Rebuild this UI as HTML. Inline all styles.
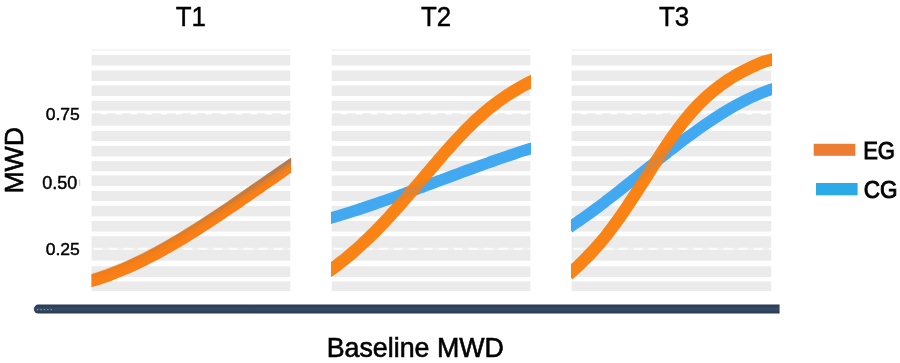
<!DOCTYPE html>
<html><head><meta charset="utf-8"><title>MWD chart</title>
<style>
html,body{margin:0;padding:0;background:#fff;}
body{width:900px;height:363px;overflow:hidden;font-family:"Liberation Sans",sans-serif;}
svg{display:block;}
</style></head><body>
<svg width="900" height="363" viewBox="0 0 900 363">
<defs><filter id="b" x="-5%" y="-5%" width="110%" height="110%"><feGaussianBlur stdDeviation="0.75"/></filter>
<filter id="b2" x="-5%" y="-5%" width="110%" height="110%"><feGaussianBlur stdDeviation="0.5"/></filter>
<clipPath id="c0"><rect x="91.4" y="40" width="199.7" height="260"/></clipPath>
<clipPath id="c1"><rect x="331.5" y="40" width="198.9" height="260"/></clipPath>
<clipPath id="c2"><rect x="571.4" y="40" width="199.8" height="260"/></clipPath>
<linearGradient id="g1" gradientUnits="userSpaceOnUse" x1="92" y1="0" x2="291" y2="0"><stop offset="0" stop-color="#d9782e" stop-opacity="0.25"/><stop offset="0.5" stop-color="#c87a3c" stop-opacity="0.55"/><stop offset="1" stop-color="#a37a5e" stop-opacity="0.95"/></linearGradient>
<linearGradient id="gb" x1="0" y1="0" x2="0" y2="1"><stop offset="0" stop-color="#2a394e"/><stop offset="0.5" stop-color="#354b69"/><stop offset="1" stop-color="#2a394e"/></linearGradient>
</defs>
<rect width="900" height="363" fill="#fff"/>
<g filter="url(#b)">
<rect x="91.6" y="49" width="198.7" height="1.8" fill="#f3f3f3"/>
<rect x="91.6" y="55.0" width="198.7" height="10.5" fill="#ebebeb"/>
<rect x="91.6" y="70.5" width="198.7" height="10.5" fill="#ebebeb"/>
<rect x="91.6" y="85.4" width="198.7" height="10.6" fill="#ebebeb"/>
<rect x="91.6" y="100.9" width="198.7" height="9.7" fill="#ebebeb"/>
<rect x="91.6" y="114.4" width="198.7" height="11.3" fill="#ebebeb"/>
<rect x="91.6" y="130.9" width="198.7" height="10.1" fill="#ebebeb"/>
<rect x="91.6" y="145.8" width="198.7" height="10.6" fill="#ebebeb"/>
<rect x="91.6" y="161.0" width="198.7" height="10.2" fill="#ebebeb"/>
<rect x="91.6" y="175.4" width="198.7" height="10.6" fill="#ebebeb"/>
<rect x="91.6" y="190.9" width="198.7" height="10.1" fill="#ebebeb"/>
<rect x="91.6" y="205.8" width="198.7" height="10.6" fill="#ebebeb"/>
<rect x="91.6" y="221.0" width="198.7" height="10.6" fill="#ebebeb"/>
<rect x="91.6" y="236.2" width="198.7" height="24.5" fill="#ebebeb"/>
<rect x="91.6" y="266.3" width="198.7" height="10.7" fill="#ebebeb"/>
<rect x="91.6" y="281.4" width="198.7" height="9.6" fill="#ebebeb"/>
<line x1="91.6" x2="290.3" y1="114.1" y2="114.1" stroke="#ebebeb" stroke-width="1.6" stroke-linecap="round" stroke-dasharray="7.5 7.5" stroke-dashoffset="-1"/>
<line x1="91.6" x2="290.3" y1="248.8" y2="248.8" stroke="#fff" stroke-opacity="0.7" stroke-width="2.2" stroke-dasharray="9 6" stroke-dashoffset="-2"/>
<line x1="91.6" x2="290.3" y1="248.8" y2="248.8" stroke="#fff" stroke-opacity="0.3" stroke-width="2"/>
<rect x="331.7" y="49" width="198.7" height="1.8" fill="#f3f3f3"/>
<rect x="331.7" y="55.0" width="198.7" height="10.5" fill="#ebebeb"/>
<rect x="331.7" y="70.5" width="198.7" height="10.5" fill="#ebebeb"/>
<rect x="331.7" y="85.4" width="198.7" height="10.6" fill="#ebebeb"/>
<rect x="331.7" y="100.9" width="198.7" height="9.7" fill="#ebebeb"/>
<rect x="331.7" y="114.4" width="198.7" height="11.3" fill="#ebebeb"/>
<rect x="331.7" y="130.9" width="198.7" height="10.1" fill="#ebebeb"/>
<rect x="331.7" y="145.8" width="198.7" height="10.6" fill="#ebebeb"/>
<rect x="331.7" y="161.0" width="198.7" height="10.2" fill="#ebebeb"/>
<rect x="331.7" y="175.4" width="198.7" height="10.6" fill="#ebebeb"/>
<rect x="331.7" y="190.9" width="198.7" height="10.1" fill="#ebebeb"/>
<rect x="331.7" y="205.8" width="198.7" height="10.6" fill="#ebebeb"/>
<rect x="331.7" y="221.0" width="198.7" height="10.6" fill="#ebebeb"/>
<rect x="331.7" y="236.2" width="198.7" height="24.5" fill="#ebebeb"/>
<rect x="331.7" y="266.3" width="198.7" height="10.7" fill="#ebebeb"/>
<rect x="331.7" y="281.4" width="198.7" height="9.6" fill="#ebebeb"/>
<line x1="331.7" x2="530.4" y1="114.1" y2="114.1" stroke="#ebebeb" stroke-width="1.6" stroke-linecap="round" stroke-dasharray="7.5 7.5" stroke-dashoffset="-1"/>
<line x1="331.7" x2="530.4" y1="248.8" y2="248.8" stroke="#fff" stroke-opacity="0.7" stroke-width="2.2" stroke-dasharray="9 6" stroke-dashoffset="-2"/>
<line x1="331.7" x2="530.4" y1="248.8" y2="248.8" stroke="#fff" stroke-opacity="0.3" stroke-width="2"/>
<rect x="571.6" y="49" width="199.6" height="1.8" fill="#f3f3f3"/>
<rect x="571.6" y="55.0" width="199.6" height="10.5" fill="#ebebeb"/>
<rect x="571.6" y="70.5" width="199.6" height="10.5" fill="#ebebeb"/>
<rect x="571.6" y="85.4" width="199.6" height="10.6" fill="#ebebeb"/>
<rect x="571.6" y="100.9" width="199.6" height="9.7" fill="#ebebeb"/>
<rect x="571.6" y="114.4" width="199.6" height="11.3" fill="#ebebeb"/>
<rect x="571.6" y="130.9" width="199.6" height="10.1" fill="#ebebeb"/>
<rect x="571.6" y="145.8" width="199.6" height="10.6" fill="#ebebeb"/>
<rect x="571.6" y="161.0" width="199.6" height="10.2" fill="#ebebeb"/>
<rect x="571.6" y="175.4" width="199.6" height="10.6" fill="#ebebeb"/>
<rect x="571.6" y="190.9" width="199.6" height="10.1" fill="#ebebeb"/>
<rect x="571.6" y="205.8" width="199.6" height="10.6" fill="#ebebeb"/>
<rect x="571.6" y="221.0" width="199.6" height="10.6" fill="#ebebeb"/>
<rect x="571.6" y="236.2" width="199.6" height="24.5" fill="#ebebeb"/>
<rect x="571.6" y="266.3" width="199.6" height="10.7" fill="#ebebeb"/>
<rect x="571.6" y="281.4" width="199.6" height="9.6" fill="#ebebeb"/>
<line x1="571.6" x2="771.2" y1="114.1" y2="114.1" stroke="#ebebeb" stroke-width="1.6" stroke-linecap="round" stroke-dasharray="7.5 7.5" stroke-dashoffset="-1"/>
<line x1="571.6" x2="771.2" y1="248.8" y2="248.8" stroke="#fff" stroke-opacity="0.7" stroke-width="2.2" stroke-dasharray="9 6" stroke-dashoffset="-2"/>
<line x1="571.6" x2="771.2" y1="248.8" y2="248.8" stroke="#fff" stroke-opacity="0.3" stroke-width="2"/>
</g>
<rect x="79" y="179.5" width="1.2" height="6.5" fill="#d0d0d0"/>
<g filter="url(#b2)" fill="none" stroke-linecap="butt">
<g clip-path="url(#c0)">
<path d="M88.6,281.6 C90.1,281.2 94.6,279.9 97.5,279.0 C100.5,278.0 103.5,277.0 106.5,276.0 C109.4,274.9 112.4,273.8 115.4,272.6 C118.4,271.4 121.3,270.2 124.3,268.9 C127.3,267.6 130.3,266.3 133.3,264.9 C136.2,263.6 139.2,262.1 142.2,260.7 C145.2,259.2 148.1,257.7 151.1,256.1 C154.1,254.6 157.1,253.0 160.0,251.3 C163.0,249.7 166.0,248.0 169.0,246.3 C172.0,244.6 174.9,242.9 177.9,241.1 C180.9,239.4 183.9,237.6 186.8,235.7 C189.8,233.9 192.8,232.0 195.8,230.2 C198.7,228.3 201.7,226.4 204.7,224.4 C207.7,222.5 210.6,220.6 213.6,218.6 C216.6,216.6 219.6,214.6 222.6,212.6 C225.5,210.6 228.5,208.6 231.5,206.6 C234.5,204.6 237.4,202.5 240.4,200.5 C243.4,198.4 246.4,196.4 249.3,194.3 C252.3,192.2 255.3,190.2 258.3,188.1 C261.3,186.0 264.2,184.0 267.2,181.9 C270.2,179.8 273.2,177.8 276.1,175.7 C279.1,173.6 282.1,171.6 285.1,169.5 C288.0,167.5 292.5,164.4 294.0,163.4" stroke="#fa7f12" stroke-width="12.4"/>
<path d="M88.6,281.6 C90.1,281.2 94.6,279.9 97.5,279.0 C100.5,278.0 103.5,277.0 106.5,276.0 C109.4,274.9 112.4,273.8 115.4,272.6 C118.4,271.4 121.3,270.2 124.3,268.9 C127.3,267.6 130.3,266.3 133.3,264.9 C136.2,263.6 139.2,262.1 142.2,260.7 C145.2,259.2 148.1,257.7 151.1,256.1 C154.1,254.6 157.1,253.0 160.0,251.3 C163.0,249.7 166.0,248.0 169.0,246.3 C172.0,244.6 174.9,242.9 177.9,241.1 C180.9,239.4 183.9,237.6 186.8,235.7 C189.8,233.9 192.8,232.0 195.8,230.2 C198.7,228.3 201.7,226.4 204.7,224.4 C207.7,222.5 210.6,220.6 213.6,218.6 C216.6,216.6 219.6,214.6 222.6,212.6 C225.5,210.6 228.5,208.6 231.5,206.6 C234.5,204.6 237.4,202.5 240.4,200.5 C243.4,198.4 246.4,196.4 249.3,194.3 C252.3,192.2 255.3,190.2 258.3,188.1 C261.3,186.0 264.2,184.0 267.2,181.9 C270.2,179.8 273.2,177.8 276.1,175.7 C279.1,173.6 282.1,171.6 285.1,169.5 C288.0,167.5 292.5,164.4 294.0,163.4" stroke="url(#g1)" stroke-width="7" opacity="0.3" transform="translate(0,-3.6)"/>
<path d="M88.6,281.6 C90.1,281.2 94.6,279.9 97.5,279.0 C100.5,278.0 103.5,277.0 106.5,276.0 C109.4,274.9 112.4,273.8 115.4,272.6 C118.4,271.4 121.3,270.2 124.3,268.9 C127.3,267.6 130.3,266.3 133.3,264.9 C136.2,263.6 139.2,262.1 142.2,260.7 C145.2,259.2 148.1,257.7 151.1,256.1 C154.1,254.6 157.1,253.0 160.0,251.3 C163.0,249.7 166.0,248.0 169.0,246.3 C172.0,244.6 174.9,242.9 177.9,241.1 C180.9,239.4 183.9,237.6 186.8,235.7 C189.8,233.9 192.8,232.0 195.8,230.2 C198.7,228.3 201.7,226.4 204.7,224.4 C207.7,222.5 210.6,220.6 213.6,218.6 C216.6,216.6 219.6,214.6 222.6,212.6 C225.5,210.6 228.5,208.6 231.5,206.6 C234.5,204.6 237.4,202.5 240.4,200.5 C243.4,198.4 246.4,196.4 249.3,194.3 C252.3,192.2 255.3,190.2 258.3,188.1 C261.3,186.0 264.2,184.0 267.2,181.9 C270.2,179.8 273.2,177.8 276.1,175.7 C279.1,173.6 282.1,171.6 285.1,169.5 C288.0,167.5 292.5,164.4 294.0,163.4" stroke="url(#g1)" stroke-width="3.6" opacity="0.85" transform="translate(0,-5.6)"/>
</g>
<g clip-path="url(#c1)">
<path d="M329.0,218.6 C330.5,218.2 334.9,216.9 337.9,216.0 C340.8,215.1 343.8,214.2 346.8,213.3 C349.7,212.3 352.7,211.4 355.6,210.4 C358.6,209.5 361.6,208.5 364.5,207.5 C367.5,206.5 370.5,205.5 373.4,204.5 C376.4,203.5 379.3,202.5 382.3,201.4 C385.3,200.4 388.2,199.4 391.2,198.3 C394.1,197.3 397.1,196.2 400.1,195.1 C403.0,194.1 406.0,193.0 408.9,191.9 C411.9,190.8 414.9,189.7 417.8,188.7 C420.8,187.6 423.7,186.5 426.7,185.4 C429.7,184.3 432.6,183.2 435.6,182.1 C438.6,181.0 441.5,179.9 444.5,178.8 C447.4,177.7 450.4,176.6 453.4,175.5 C456.3,174.4 459.3,173.3 462.2,172.2 C465.2,171.1 468.2,170.0 471.1,169.0 C474.1,167.9 477.0,166.8 480.0,165.7 C483.0,164.7 485.9,163.6 488.9,162.6 C491.8,161.5 494.8,160.5 497.8,159.4 C500.7,158.4 503.7,157.4 506.7,156.4 C509.6,155.3 512.6,154.3 515.5,153.4 C518.5,152.4 521.5,151.4 524.4,150.4 C527.4,149.5 531.8,148.1 533.3,147.6" stroke="#42a9f2" stroke-width="11.5"/>
<path d="M328.3,271.5 C329.0,271.1 330.5,270.0 332.3,268.7 C334.1,267.4 336.9,265.4 339.1,263.6 C341.4,261.9 343.7,260.1 346.0,258.2 C348.2,256.4 350.5,254.5 352.8,252.5 C355.1,250.5 357.4,248.5 359.6,246.5 C361.9,244.4 364.2,242.3 366.5,240.1 C368.8,237.9 371.0,235.7 373.3,233.4 C375.6,231.2 377.9,228.9 380.1,226.5 C382.4,224.1 384.7,221.7 387.0,219.3 C389.3,216.8 391.5,214.3 393.8,211.8 C396.1,209.3 398.4,206.7 400.6,204.2 C402.9,201.6 405.2,199.0 407.5,196.3 C409.8,193.7 412.0,191.0 414.3,188.4 C416.6,185.7 418.9,183.0 421.1,180.4 C423.4,177.7 425.7,175.0 428.0,172.3 C430.3,169.6 432.5,166.9 434.8,164.3 C437.1,161.6 439.4,158.9 441.7,156.3 C443.9,153.7 446.2,151.1 448.5,148.5 C450.8,145.9 453.0,143.4 455.3,141.0 C457.6,138.5 459.9,136.1 462.2,133.7 C464.4,131.3 466.7,129.0 469.0,126.8 C471.3,124.5 473.5,122.3 475.8,120.2 C478.1,118.1 480.4,116.0 482.7,114.0 C484.9,112.0 487.2,110.1 489.5,108.2 C491.8,106.4 494.0,104.6 496.3,102.9 C498.6,101.2 500.9,99.6 503.2,98.0 C505.4,96.4 507.7,94.9 510.0,93.5 C512.3,92.0 514.6,90.6 516.8,89.3 C519.1,88.0 521.4,86.7 523.7,85.4 C525.9,84.2 528.7,82.8 530.5,81.9 C532.3,81.0 533.8,80.3 534.5,79.9" stroke="#fa7f12" stroke-width="12.4" opacity="0.97"/>
<path d="M329.0,218.6 C330.5,218.2 334.9,216.9 337.9,216.0 C340.8,215.1 343.8,214.2 346.8,213.3 C349.7,212.3 352.7,211.4 355.6,210.4 C358.6,209.5 361.6,208.5 364.5,207.5 C367.5,206.5 370.5,205.5 373.4,204.5 C376.4,203.5 379.3,202.5 382.3,201.4 C385.3,200.4 388.2,199.4 391.2,198.3 C394.1,197.3 397.1,196.2 400.1,195.1 C403.0,194.1 406.0,193.0 408.9,191.9 C411.9,190.8 414.9,189.7 417.8,188.7 C420.8,187.6 423.7,186.5 426.7,185.4 C429.7,184.3 432.6,183.2 435.6,182.1 C438.6,181.0 441.5,179.9 444.5,178.8 C447.4,177.7 450.4,176.6 453.4,175.5 C456.3,174.4 459.3,173.3 462.2,172.2 C465.2,171.1 468.2,170.0 471.1,169.0 C474.1,167.9 477.0,166.8 480.0,165.7 C483.0,164.7 485.9,163.6 488.9,162.6 C491.8,161.5 494.8,160.5 497.8,159.4 C500.7,158.4 503.7,157.4 506.7,156.4 C509.6,155.3 512.6,154.3 515.5,153.4 C518.5,152.4 521.5,151.4 524.4,150.4 C527.4,149.5 531.8,148.1 533.3,147.6" stroke="#42a9f2" stroke-width="7" opacity="0.13"/>
</g>
<g clip-path="url(#c2)">
<path d="M569.0,227.6 C570.5,226.6 574.9,223.7 577.9,221.6 C580.9,219.6 583.9,217.5 586.8,215.4 C589.8,213.3 592.8,211.1 595.7,208.9 C598.7,206.7 601.7,204.5 604.7,202.2 C607.6,199.9 610.6,197.6 613.6,195.3 C616.5,193.0 619.5,190.7 622.5,188.3 C625.4,186.0 628.4,183.6 631.4,181.3 C634.4,178.9 637.3,176.5 640.3,174.1 C643.3,171.8 646.2,169.4 649.2,167.0 C652.2,164.6 655.2,162.3 658.1,159.9 C661.1,157.5 664.1,155.2 667.0,152.9 C670.0,150.6 673.0,148.2 676.0,146.0 C678.9,143.7 681.9,141.4 684.9,139.2 C687.8,137.0 690.8,134.8 693.8,132.6 C696.8,130.5 699.7,128.3 702.7,126.3 C705.7,124.2 708.6,122.2 711.6,120.2 C714.6,118.2 717.6,116.3 720.5,114.4 C723.5,112.5 726.5,110.7 729.4,109.0 C732.4,107.2 735.4,105.6 738.3,104.0 C741.3,102.3 744.3,100.8 747.3,99.3 C750.2,97.9 753.2,96.5 756.2,95.2 C759.1,93.9 762.1,92.7 765.1,91.6 C768.1,90.5 772.5,89.0 774.0,88.5" stroke="#42a9f2" stroke-width="11.5"/>
<path d="M568.3,274.7 C569.0,274.1 570.5,272.8 572.3,271.2 C574.1,269.5 576.9,267.1 579.2,264.9 C581.4,262.8 583.7,260.6 586.0,258.2 C588.3,255.9 590.6,253.5 592.9,251.1 C595.1,248.6 597.4,246.0 599.7,243.4 C602.0,240.7 604.3,237.9 606.6,235.1 C608.8,232.2 611.1,229.2 613.4,226.1 C615.7,223.0 618.0,219.8 620.3,216.6 C622.5,213.3 624.8,210.0 627.1,206.6 C629.4,203.2 631.7,199.7 634.0,196.2 C636.2,192.7 638.5,189.1 640.8,185.6 C643.1,182.0 645.4,178.4 647.7,174.8 C650.0,171.1 652.2,167.5 654.5,163.9 C656.8,160.2 659.1,156.6 661.4,153.1 C663.7,149.5 665.9,146.0 668.2,142.7 C670.5,139.3 672.8,136.0 675.1,132.9 C677.4,129.7 679.6,126.7 681.9,123.7 C684.2,120.8 686.5,118.0 688.8,115.3 C691.1,112.6 693.3,110.0 695.6,107.6 C697.9,105.1 700.2,102.8 702.5,100.6 C704.8,98.3 707.1,96.3 709.3,94.3 C711.6,92.3 713.9,90.4 716.2,88.6 C718.5,86.8 720.8,85.1 723.0,83.5 C725.3,81.9 727.6,80.3 729.9,78.9 C732.2,77.4 734.5,76.1 736.7,74.7 C739.0,73.4 741.3,72.2 743.6,71.0 C745.9,69.8 748.2,68.6 750.4,67.5 C752.7,66.4 755.0,65.3 757.3,64.4 C759.6,63.4 761.9,62.5 764.1,61.7 C766.4,61.0 769.2,60.4 771.0,59.9 C772.8,59.5 774.3,59.3 775.0,59.1" stroke="#fa7f12" stroke-width="12.4" opacity="0.97"/>
<path d="M569.0,227.6 C570.5,226.6 574.9,223.7 577.9,221.6 C580.9,219.6 583.9,217.5 586.8,215.4 C589.8,213.3 592.8,211.1 595.7,208.9 C598.7,206.7 601.7,204.5 604.7,202.2 C607.6,199.9 610.6,197.6 613.6,195.3 C616.5,193.0 619.5,190.7 622.5,188.3 C625.4,186.0 628.4,183.6 631.4,181.3 C634.4,178.9 637.3,176.5 640.3,174.1 C643.3,171.8 646.2,169.4 649.2,167.0 C652.2,164.6 655.2,162.3 658.1,159.9 C661.1,157.5 664.1,155.2 667.0,152.9 C670.0,150.6 673.0,148.2 676.0,146.0 C678.9,143.7 681.9,141.4 684.9,139.2 C687.8,137.0 690.8,134.8 693.8,132.6 C696.8,130.5 699.7,128.3 702.7,126.3 C705.7,124.2 708.6,122.2 711.6,120.2 C714.6,118.2 717.6,116.3 720.5,114.4 C723.5,112.5 726.5,110.7 729.4,109.0 C732.4,107.2 735.4,105.6 738.3,104.0 C741.3,102.3 744.3,100.8 747.3,99.3 C750.2,97.9 753.2,96.5 756.2,95.2 C759.1,93.9 762.1,92.7 765.1,91.6 C768.1,90.5 772.5,89.0 774.0,88.5" stroke="#42a9f2" stroke-width="7" opacity="0.13"/>
</g>
</g>
<g filter="url(#b)"><path d="M38.3,304.6 H779.6 V313.6 H38.3 A4.5,4.5 0 0 1 38.3,304.6 Z" fill="url(#gb)"/>
<line x1="37" x2="53" y1="309.6" y2="309.6" stroke="#aab3c0" stroke-opacity="0.7" stroke-width="1.3" stroke-dasharray="1.3 2.1"/></g>
<g filter="url(#b2)"><rect x="813.7" y="143.8" width="41.6" height="12" fill="#ed7d31"/>
<rect x="816" y="183" width="41.6" height="12.3" fill="#29abe8"/></g>
<g font-family="'Liberation Sans', sans-serif" fill="#000" stroke="#000" stroke-width="0.45" filter="url(#b2)">
<text x="190.9" y="25.9" font-size="27.2" text-anchor="middle" textLength="30.2" lengthAdjust="spacingAndGlyphs">T1</text>
<text x="436.0" y="25.9" font-size="27.2" text-anchor="middle" textLength="30.2" lengthAdjust="spacingAndGlyphs">T2</text>
<text x="674.1" y="26.0" font-size="27.4" text-anchor="middle" textLength="30.2" lengthAdjust="spacingAndGlyphs">T3</text>
<text x="62.8" y="119.8" font-size="16.9" text-anchor="middle" textLength="34.2" lengthAdjust="spacingAndGlyphs">0.75</text>
<text x="59.7" y="188.7" font-size="17.6" text-anchor="middle" textLength="35.0" lengthAdjust="spacingAndGlyphs">0.50</text>
<text x="62.8" y="254.8" font-size="16.9" text-anchor="middle" textLength="34.2" lengthAdjust="spacingAndGlyphs">0.25</text>
<text transform="translate(22.5,160.3) rotate(-90)" font-size="26.6" text-anchor="middle" textLength="66.6" lengthAdjust="spacingAndGlyphs" stroke-width="0.6">MWD</text>
<text x="415.3" y="356.6" font-size="27.5" text-anchor="middle" textLength="177.3" lengthAdjust="spacingAndGlyphs" stroke-width="0.6">Baseline MWD</text>
<text x="879.1" y="158.6" font-size="23.4" text-anchor="middle" textLength="31.8" lengthAdjust="spacingAndGlyphs" stroke-width="0.95">EG</text>
<text x="880.6" y="198.3" font-size="23.7" text-anchor="middle" textLength="33.8" lengthAdjust="spacingAndGlyphs" stroke-width="0.95">CG</text>
</g>
</svg>
</body></html>
